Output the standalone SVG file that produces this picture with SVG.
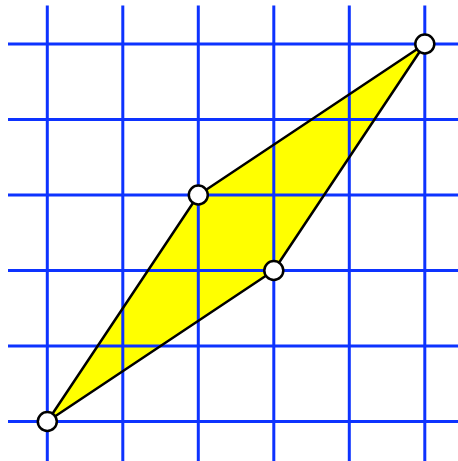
<svg xmlns="http://www.w3.org/2000/svg" width="458" height="461" viewBox="0 0 458 461">
<style>
.g{stroke:#0d33ff;stroke-width:3;fill:none}
.f{fill:#ffff00;stroke:none}
.e{stroke:#000;stroke-width:2.5;fill:none;stroke-linejoin:round}
.p{fill:#fff;stroke:#000;stroke-width:2.5}
</style>
<rect width="458" height="461" fill="#fff"/>
<g id="fill"><polygon class="f" points="47.3,421.5 198.3,195 424.8,44 273.8,270.5"/></g>
<g id="grid" class="g">
<line x1="47.3" y1="5.5" x2="47.3" y2="461"/>
<line x1="122.8" y1="5.5" x2="122.8" y2="461"/>
<line x1="198.3" y1="5.5" x2="198.3" y2="461"/>
<line x1="273.8" y1="5.5" x2="273.8" y2="461"/>
<line x1="349.3" y1="5.5" x2="349.3" y2="461"/>
<line x1="424.8" y1="5.5" x2="424.8" y2="461"/>
<line x1="8" y1="44" x2="458" y2="44"/>
<line x1="8" y1="119.5" x2="458" y2="119.5"/>
<line x1="8" y1="195" x2="458" y2="195"/>
<line x1="8" y1="270.5" x2="458" y2="270.5"/>
<line x1="8" y1="346" x2="458" y2="346"/>
<line x1="8" y1="421.5" x2="458" y2="421.5"/>
</g>
<g id="connectors">
<polygon class="e" points="47.3,421.5 198.3,195 424.8,44 273.8,270.5"/>
</g>
<g id="p1"><circle class="p" cx="47.3" cy="421.5" r="9.5"/></g>
<g id="p2"><circle class="p" cx="198.3" cy="195" r="9.5"/></g>
<g id="p3"><circle class="p" cx="424.8" cy="44" r="9.5"/></g>
<g id="p4"><circle class="p" cx="273.8" cy="270.5" r="9.5"/></g>
</svg>
